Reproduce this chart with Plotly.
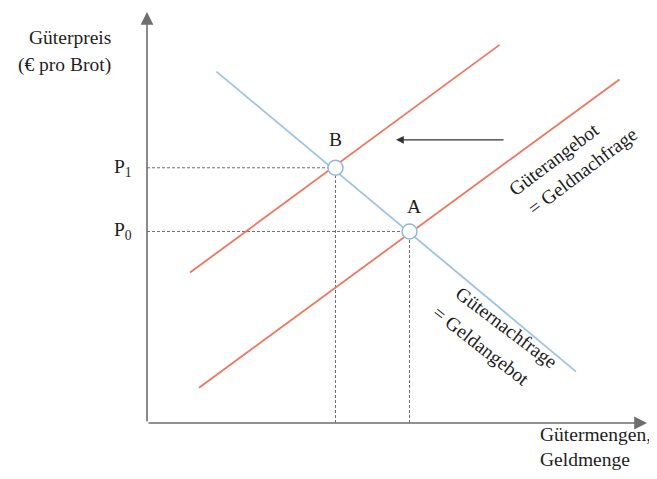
import plotly.graph_objects as go

# ---- data (chart units: quantity on x, price on y) ----
demand_x = [1.39, 8.58]
demand_y = [8.55, 1.25]
supply0_x = [1.04, 9.45]
supply0_y = [0.86, 8.36]
supply1_x = [0.86, 7.05]
supply1_y = [3.66, 9.20]
eq_labels = ["A", "B"]
eq_x = [5.25, 3.77]
eq_y = [4.66, 6.21]
shift_from = [7.16, 6.89]
shift_to = [4.98, 6.89]
price_labels = ["P<sub>0</sub>", "P<sub>1</sub>"]

X_RANGE = [0, 10]
Y_RANGE = [0, 10]

FONT = "Liberation Serif, Times New Roman, serif"
TXT = "#1e1e1e"
BLUE = "#9cc4e6"
RED = "#f0765e"
AXC = "#6e6e6e"
FS = 19.5


def px_(x):
    return (x - X_RANGE[0]) / (X_RANGE[1] - X_RANGE[0])


def py_(y):
    return (y - Y_RANGE[0]) / (Y_RANGE[1] - Y_RANGE[0])


fig = go.Figure()

# dotted guide lines to the axes
for x, y in zip(eq_x, eq_y):
    fig.add_trace(go.Scatter(x=[0, x], y=[y, y], mode="lines",
                             line=dict(color="#707070", width=1, dash="3px,2px"),
                             hoverinfo="skip", showlegend=False))
    fig.add_trace(go.Scatter(x=[x, x], y=[0, y], mode="lines",
                             line=dict(color="#707070", width=1, dash="3px,2px"),
                             hoverinfo="skip", showlegend=False))

fig.add_trace(go.Scatter(x=demand_x, y=demand_y, mode="lines",
                         line=dict(color=BLUE, width=1.8), showlegend=False))
fig.add_trace(go.Scatter(x=supply0_x, y=supply0_y, mode="lines",
                         line=dict(color=RED, width=1.8), showlegend=False))
fig.add_trace(go.Scatter(x=supply1_x, y=supply1_y, mode="lines",
                         line=dict(color=RED, width=1.8), showlegend=False))
fig.add_trace(go.Scatter(x=eq_x, y=eq_y, mode="markers",
                         marker=dict(size=15, color="white",
                                     line=dict(color="#8fb8dc", width=1.5)),
                         showlegend=False))

ann = []
# axes with arrowheads
ann.append(dict(x=0, y=Y_RANGE[1], ax=0, ay=0, xref="x", yref="y", axref="x", ayref="y",
                text="", showarrow=True, arrowhead=2, arrowsize=1.6, arrowwidth=1.6,
                arrowcolor=AXC))
ann.append(dict(x=X_RANGE[1], y=0, ax=0, ay=0, xref="x", yref="y", axref="x", ayref="y",
                text="", showarrow=True, arrowhead=2, arrowsize=1.6, arrowwidth=1.6,
                arrowcolor=AXC))
# shift arrow
ann.append(dict(x=shift_to[0], y=shift_to[1], ax=shift_from[0], ay=shift_from[1],
                xref="x", yref="y", axref="x", ayref="y", text="", showarrow=True,
                arrowhead=2, arrowsize=1.2, arrowwidth=1.3, arrowcolor="#333333"))

f = dict(family=FONT, size=FS, color=TXT)
# axis titles (outside plot area -> paper coordinates)
ann.append(dict(x=px_(-0.68), y=py_(9.37), xref="paper", yref="paper", text="Güterpreis",
                showarrow=False, xanchor="right", yanchor="middle", font=f))
ann.append(dict(x=px_(-0.68), y=py_(8.71), xref="paper", yref="paper", text="(€ pro Brot)",
                showarrow=False, xanchor="right", yanchor="middle", font=f))
ann.append(dict(x=px_(7.82), y=py_(-0.29), xref="paper", yref="paper", text="Gütermengen,",
                showarrow=False, xanchor="left", yanchor="middle", font=f))
ann.append(dict(x=px_(7.82), y=py_(-0.90), xref="paper", yref="paper", text="Geldmenge",
                showarrow=False, xanchor="left", yanchor="middle", font=f))
# price labels
for lab, y in zip(price_labels, eq_y):
    ann.append(dict(x=px_(-0.26), y=py_(y), xref="paper", yref="paper", text=lab,
                    showarrow=False, xanchor="right", yanchor="middle", font=f))
# point labels
shifts = {"A": (4, 25), "B": (0, 28)}
for lab, x, y in zip(eq_labels, eq_x, eq_y):
    ann.append(dict(x=x, y=y, xref="x", yref="y", text=lab, showarrow=False,
                    xshift=shifts[lab][0], yshift=shifts[lab][1],
                    xanchor="center", yanchor="middle", font=f))
# curve labels
ann.append(dict(x=8.14, y=6.40, xref="x", yref="y", text="Güterangebot",
                showarrow=False, textangle=-37, font=f))
ann.append(dict(x=8.70, y=6.13, xref="x", yref="y", text="= Geldnachfrage",
                showarrow=False, textangle=-37, font=f))
ann.append(dict(x=7.19, y=2.33, xref="x", yref="y", text="Güternachfrage",
                showarrow=False, textangle=37, font=f))
ann.append(dict(x=6.67, y=1.88, xref="x", yref="y", text="= Geldangebot",
                showarrow=False, textangle=38, font=f))

# page body has an 8px margin: plot area placed at x 147..647, y 12..423 in the window
fig.update_layout(
    width=649, height=465,
    margin=dict(l=139, r=10, t=4, b=50),
    paper_bgcolor="white", plot_bgcolor="white",
    xaxis=dict(range=X_RANGE, visible=False, fixedrange=True),
    yaxis=dict(range=Y_RANGE, visible=False, fixedrange=True),
    annotations=ann,
    showlegend=False,
)

fig.write_html("out.html")
